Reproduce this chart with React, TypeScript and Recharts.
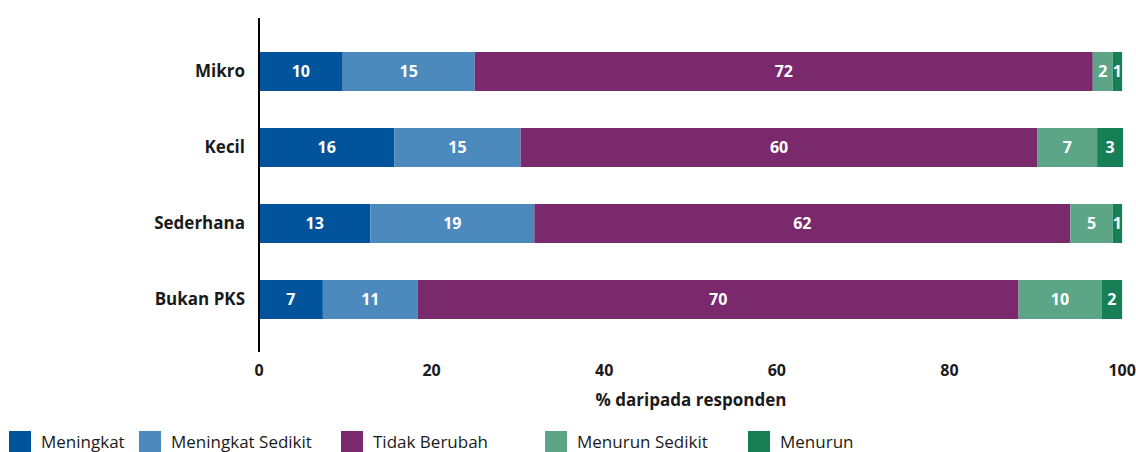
import React from 'react';
import { BarChart, Bar, XAxis, YAxis, Legend, LabelList } from 'recharts';

const categories = ['Mikro', 'Kecil', 'Sederhana', 'Bukan PKS'];
const meningkat = [9.7, 15.7, 12.9, 7.4];
const meningkatSedikit = [15.3, 14.6, 19.0, 11.0];
const tidakBerubah = [71.6, 59.9, 62.1, 69.6];
const menurunSedikit = [2.3, 6.9, 4.9, 9.6];
const menurun = [1.1, 3.0, 1.1, 2.4];
const xTicks = [0, 20, 40, 60, 80, 100];

const SERIES = [
    { key: 'meningkat', name: 'Meningkat', color: '#01549b', values: meningkat },
    { key: 'meningkatSedikit', name: 'Meningkat Sedikit', color: '#4c89bd', values: meningkatSedikit },
    { key: 'tidakBerubah', name: 'Tidak Berubah', color: '#7a2a6c', values: tidakBerubah },
    { key: 'menurunSedikit', name: 'Menurun Sedikit', color: '#5ca687', values: menurunSedikit },
    { key: 'menurun', name: 'Menurun', color: '#177f56', values: menurun },
];

const data = categories.map((name, i) => {
    const row: any = { name };
    SERIES.forEach((s) => { row[s.key] = s.values[i]; });
    return row;
});

const FONT = '"Open Sans", "Noto Sans", sans-serif';

// legend item left edges
const LEGEND_X = [9, 139, 341, 545, 748];

const CustomLegend = () => (
    <div style={{ position: 'relative', height: 40, width: 1136, fontFamily: FONT }}>
        {SERIES.map((s, i) => (
            <div
                key={s.key}
                style={{ position: 'absolute', left: LEGEND_X[i], top: 19, display: 'flex', alignItems: 'center' }}
            >
                <span style={{ width: 22, height: 22, background: s.color, display: 'inline-block' }} />
                <span style={{ marginLeft: 10, fontSize: 17, color: '#1a1a1a', lineHeight: '22px', whiteSpace: 'nowrap' }}>
                    {s.name}
                </span>
            </div>
        ))}
    </div>
);

const App: React.FC = () => {
    return (
        <div style={{ position: 'absolute', left: 0, top: 0, width: 1136, height: 452, background: '#fff' }}>
            <BarChart
                width={1136}
                height={452}
                data={data}
                layout="vertical"
                margin={{ top: 18, right: 13, left: 0, bottom: 0 }}
                barSize={39}
            >
                <XAxis
                    type="number"
                    domain={[0, 100]}
                    ticks={xTicks}
                    axisLine={false}
                    tickLine={false}
                    tickMargin={7}
                    height={60}
                    tick={{ fill: '#1a1a1a', fontSize: 16, fontWeight: 700, fontFamily: FONT }}
                    label={{
                        value: '% daripada responden',
                        position: 'insideBottom',
                        offset: 6,
                        fill: '#1a1a1a',
                        fontSize: 17,
                        fontWeight: 700,
                        fontFamily: FONT,
                    }}
                />
                <YAxis
                    type="category"
                    dataKey="name"
                    width={259}
                    padding={{ top: 15, bottom: 15 }}
                    axisLine={{ stroke: '#000', strokeWidth: 2 }}
                    tickLine={false}
                    tickMargin={8}
                    tick={{ fill: '#1a1a1a', fontSize: 17, fontWeight: 700, fontFamily: FONT }}
                />
                <Legend verticalAlign="bottom" align="left" content={<CustomLegend />} wrapperStyle={{ left: 0 }} />
                {SERIES.map((s) => (
                    <Bar key={s.key} dataKey={s.key} name={s.name} stackId="a" fill={s.color} isAnimationActive={false}>
                        <LabelList
                            dataKey={s.key}
                            position="center"
                            formatter={(v: any) => Math.round(Number(v))}
                            fill="#fff"
                            fontSize={16}
                            fontWeight={700}
                            fontFamily={FONT}
                        />
                    </Bar>
                ))}
            </BarChart>
        </div>
    );
};

export default App;
